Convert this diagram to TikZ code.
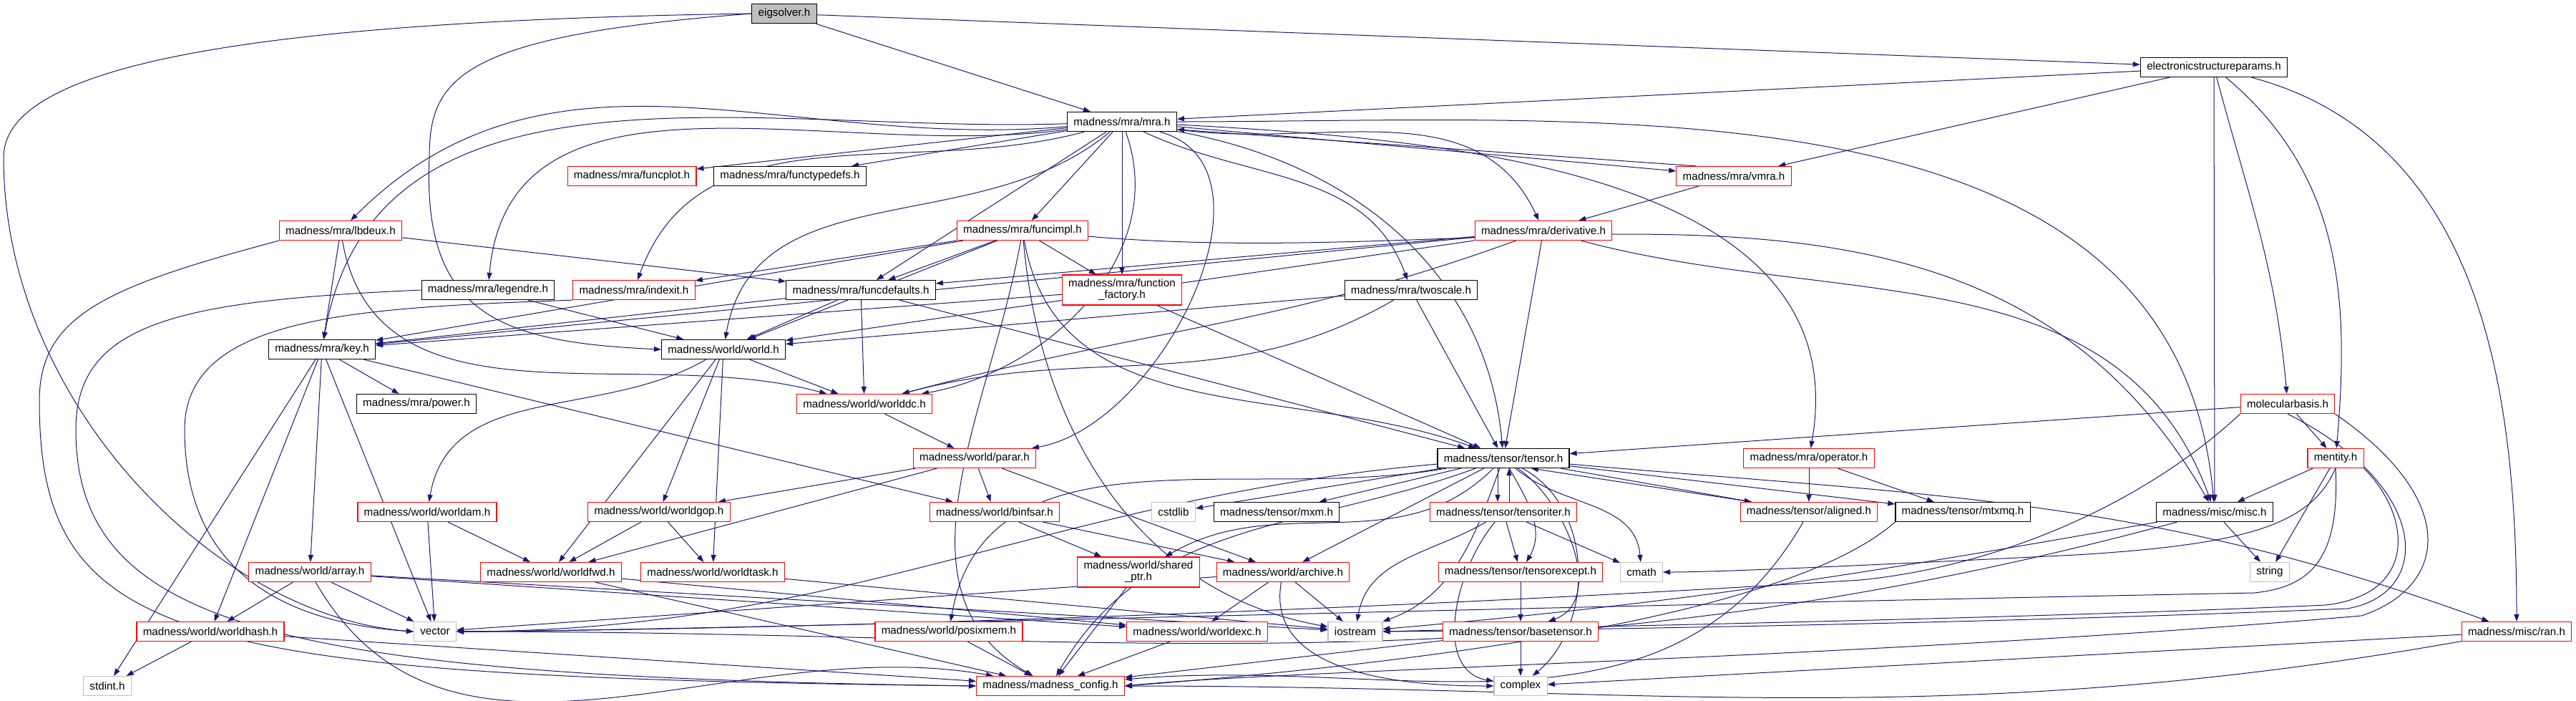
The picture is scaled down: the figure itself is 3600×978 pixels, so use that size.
\documentclass[tikz,border=0pt]{standalone}
\usepackage{fontspec}
\setmainfont{Liberation Sans}
\usetikzlibrary{arrows.meta,backgrounds}
\definecolor{dxblue}{RGB}{25,25,112}
\definecolor{sysgray}{RGB}{191,191,191}

\begin{document}
\begin{tikzpicture}[x=0.25pt,y=-0.25pt,>={Triangle[length=2.5pt,width=1.8pt]},
  hdr/.style={draw=black,fill=white,line width=0.3pt,inner xsep=2.2pt,inner ysep=0pt,
    minimum height=6.75pt,font=\fontsize{3.8}{4}\selectfont},
  hdrred/.style={hdr,draw=red},
  hdrsys/.style={hdr,draw=sysgray},
  incl/.style={->,draw=dxblue,line width=0.25pt}]
  \useasboundingbox (0,0) rectangle (3600,978);
  % headers, row by row
  \node[hdr,fill=sysgray] (eig) at (1096,19) {eigsolver.h};
  \node[hdr] (esp) at (3094,94) {electronicstructureparams.h};
  \node[hdr] (mra) at (1568,170) {madness/mra/mra.h};
  \node[hdrred] (funcplot) at (883,246) {madness/mra/funcplot.h};
  \node[hdr] (functypedefs) at (1104,246) {madness/mra/functypedefs.h};
  \node[hdrred] (vmra) at (2423,246) {madness/mra/vmra.h};
  \node[hdrred] (lbdeux) at (476,322) {madness/mra/lbdeux.h};
  \node[hdrred] (funcimpl) at (1429,322) {madness/mra/funcimpl.h};
  \node[hdrred] (derivative) at (2157,322) {madness/mra/derivative.h};
  \node[hdr] (legendre) at (682,405) {madness/mra/legendre.h};
  \node[hdrred] (indexit) at (886,405) {madness/mra/indexit.h};
  \node[hdr] (funcdefaults) at (1203,405) {madness/mra/funcdefaults.h};
  \node[hdrred,align=center,minimum height=10.5pt] (funcfactory) at (1568,405) {madness/mra/function\\\_factory.h};
  \node[hdr] (twoscale) at (1972,405) {madness/mra/twoscale.h};
  \node[hdr] (key) at (450,488) {madness/mra/key.h};
  \node[hdr] (world) at (1011,488) {madness/world/world.h};
  \node[hdr] (power) at (582,564) {madness/mra/power.h};
  \node[hdrred] (worlddc) at (1208,564) {madness/world/worlddc.h};
  \node[hdrred] (molbasis) at (3197,564) {molecularbasis.h};
  \node[hdrred] (parar) at (1362,640) {madness/world/parar.h};
  \node[hdr] (tensor) at (2101,640) {madness/tensor/tensor.h};
  \node[hdrred] (operator) at (2528,640) {madness/mra/operator.h};
  \node[hdrred] (mentity) at (3264,640) {mentity.h};
  \node[hdrred] (worldam) at (597,715) {madness/world/worldam.h};
  \node[hdrred] (worldgop) at (921,715) {madness/world/worldgop.h};
  \node[hdrred] (binfsar) at (1390,715) {madness/world/binfsar.h};
  \node[hdrsys] (cstdlib) at (1640,715) {cstdlib};
  \node[hdr] (mxm) at (1784,715) {madness/tensor/mxm.h};
  \node[hdrred] (tensoriter) at (2101,715) {madness/tensor/tensoriter.h};
  \node[hdrred] (aligned) at (2528,715) {madness/tensor/aligned.h};
  \node[hdr] (mtxmq) at (2743,715) {madness/tensor/mtxmq.h};
  \node[hdr] (misc) at (3095,715) {madness/misc/misc.h};
  \node[hdrred] (array) at (433,799) {madness/world/array.h};
  \node[hdrred] (worldfwd) at (770,799) {madness/world/worldfwd.h};
  \node[hdrred] (worldtask) at (996,799) {madness/world/worldtask.h};
  \node[hdrred,align=center,minimum height=10.5pt] (sharedptr) at (1591,799) {madness/world/shared\\\_ptr.h};
  \node[hdrred] (archive) at (1793,799) {madness/world/archive.h};
  \node[hdrred] (tensorexcept) at (2125,799) {madness/tensor/tensorexcept.h};
  \node[hdrsys] (cmath) at (2294,799) {cmath};
  \node[hdrsys] (string) at (3172,799) {string};
  \node[hdrred] (worldhash) at (294,882) {madness/world/worldhash.h};
  \node[hdrsys] (vector) at (608,882) {vector};
  \node[hdrred] (posixmem) at (1326,882) {madness/world/posixmem.h};
  \node[hdrred] (worldexc) at (1673,882) {madness/world/worldexc.h};
  \node[hdrsys] (iostream) at (1894,882) {iostream};
  \node[hdrred] (basetensor) at (2125,882) {madness/tensor/basetensor.h};
  \node[hdrred] (ran) at (3517,882) {madness/misc/ran.h};
  \node[hdrsys] (stdint) at (150,958) {stdint.h};
  \node[hdrred] (config) at (1468,958) {madness/madness\_config.h};
  \node[hdrsys] (complex) at (2125,958) {complex};

  \begin{pgfonlayer}{background}
  % straight includes
  \foreach \a/\b in {eig/mra,eig/esp,esp/mra,esp/vmra,esp/misc,mra/funcplot,mra/functypedefs,
      mra/funcimpl,mra/funcfactory,mra/funcdefaults,mra/vmra,vmra/derivative,
      lbdeux/key,lbdeux/funcdefaults,legendre/world,
      funcimpl/indexit,funcimpl/key,funcimpl/funcdefaults,funcimpl/funcfactory,funcimpl/world,
      funcdefaults/key,funcdefaults/world,funcdefaults/worlddc,funcdefaults/tensor,
      funcfactory/key,funcfactory/tensor,
      derivative/funcdefaults,derivative/key,derivative/world,derivative/tensor,
      twoscale/world,twoscale/tensor,
      key/power,key/array,key/worldhash,key/stdint,key/vector,key/binfsar,
      world/worldfwd,world/worldtask,world/worldgop,world/worlddc,worlddc/parar,
      parar/worldgop,parar/worldfwd,parar/binfsar,parar/archive,
      worldam/vector,worldam/worldfwd,worldgop/worldfwd,worldgop/worldtask,
      array/worldhash,array/vector,array/worldexc,array/iostream,
      worldhash/stdint,worldhash/config,worldfwd/config,worldfwd/worldexc,worldtask/iostream,
      binfsar/sharedptr,binfsar/archive,sharedptr/config,
      archive/vector,archive/worldexc,archive/iostream,posixmem/config,worldexc/config,
      tensor/mxm,tensor/cstdlib,tensor/archive,tensor/aligned,tensor/mtxmq,
      tensoriter/tensorexcept,tensoriter/cmath,tensorexcept/basetensor,
      basetensor/complex,basetensor/config,operator/aligned,operator/mtxmq,
      misc/string,mentity/misc,mentity/string,molbasis/tensor,molbasis/mentity,ran/complex}
    \draw[incl] (\a) -- (\b);

  % curved includes
  \draw[incl] (eig.west) .. controls (300,30) and (5,100) .. (5,220) .. controls (5,560) and (300,860) .. (vector.west);
  \draw[incl] (eig.west) .. controls (640,50) and (600,110) .. (600,220) .. controls (590,440) and (700,478) .. (world.west);
  \draw[incl] (esp) to[out=-75,in=95] (molbasis);
  \draw[incl] (esp) to[out=-40,in=85] (mentity);
  \draw[incl] (esp) to[out=-15,in=90] (ran);
  \draw[incl] (mra) to[out=185,in=45] (lbdeux);
  \draw[incl] (mra) to[out=182,in=80] (key);
  \draw[incl] (mra) to[out=188,in=85] (legendre);
  \draw[incl] (mra) to[out=195,in=70] (indexit);
  \draw[incl] (mra) to[out=-140,in=80] (world);
  \draw[incl] (mra) to[out=-70,in=10] (worlddc);
  \draw[incl] (mra) to[out=-15,in=10] (parar);
  \draw[incl] (mra) to[out=-10,in=95] (tensor);
  \draw[incl] (mra) to[out=-25,in=110] (twoscale);
  \draw[incl] (mra) to[out=-8,in=115] (derivative);
  \draw[incl] (mra) to[out=-3,in=80] (operator);
  \draw[incl] (mra) to[out=0,in=95] (misc);
  \draw[incl] (vmra.165) -- (mra.-8);
  \draw[incl] (lbdeux) to[out=-80,in=165] (worlddc);
  \draw[incl] (lbdeux.south west) .. controls (150,400) and (55,440) .. (55,560) .. controls (55,900) and (250,945) .. (config.west);
  \draw[incl] (legendre.west) .. controls (250,420) and (106,450) .. (106,600) .. controls (106,880) and (400,945) .. (config.west);
  \draw[incl] (indexit.south west) .. controls (500,430) and (258,440) .. (258,600) .. controls (258,800) and (400,870) .. (vector.west);
  \draw[incl] (funcimpl) to[out=-80,in=160] (tensor);
  \draw[incl] (funcimpl) to[out=-5,in=120] (misc);
  \draw[incl] (funcimpl) to[out=-100,in=150] (config);
  \draw[incl] (funcimpl) to[out=-85,in=170] (iostream);
  \draw[incl] (derivative) to[out=200,in=15] (worlddc);
  \draw[incl] (derivative) to[out=-15,in=110] (misc);
  \draw[incl] (twoscale) to[out=-150,in=15] (worlddc);
  \draw[incl] (world) to[out=-150,in=80] (worldam);
  \draw[incl] (array) to[out=-60,in=170] (config);
  \draw[incl] (archive) to[out=-100,in=180] (complex);
  \draw[incl] ([xshift=-2pt]tensor.south) -- ([xshift=-2pt]tensoriter.north);
  \draw[incl] ([xshift=2pt]tensoriter.north) -- ([xshift=2pt]tensor.south);
  \draw[incl] (aligned.170) -- (tensor.-20);
  \draw[incl] (tensor) to[out=185,in=0] (vector);
  \draw[incl] (tensor) to[out=190,in=80] (posixmem);
  \draw[incl] (tensor) to[out=200,in=60] (config);
  \draw[incl] (tensor) to[out=-135,in=30] (sharedptr);
  \draw[incl] (tensor) to[out=-60,in=60] (tensorexcept);
  \draw[incl] (tensor) to[out=-40,in=95] (cmath);
  \draw[incl] (tensor) to[out=-110,in=20] (iostream);
  \draw[incl] (tensor) to[out=-35,in=20] (basetensor);
  \draw[incl] (tensor) to[out=-28,in=40] (complex);
  \draw[incl] (tensor) to[out=-5,in=160] (ran);
  \draw[incl] (tensoriter) to[out=-150,in=80] (iostream);
  \draw[incl] (tensoriter) to[out=-130,in=170] (complex);
  \draw[incl] (aligned) to[out=-120,in=5] (config);
  \draw[incl] (mtxmq.south west) .. controls (2500,860) and (2000,925) .. (config.east);
  \draw[incl] (misc) to[out=190,in=5] (iostream);
  \draw[incl] (misc) to[out=195,in=0] (vector);
  \draw[incl] (mentity.south) .. controls (3230,730) and (3150,760) .. (2900,775) .. controls (2600,790) and (2400,799) .. (cmath.east);
  \draw[incl] (mentity.south) .. controls (3270,780) and (3230,820) .. (3150,828) .. controls (2000,850) and (1000,880) .. (vector.east);
  \draw[incl] (mentity.south east) .. controls (3370,720) and (3380,830) .. (3250,845) .. controls (2800,865) and (2200,875) .. (iostream.east);
  \draw[incl] (molbasis.south) .. controls (3400,680) and (3400,830) .. (3280,850) .. controls (2800,870) and (2200,880) .. (iostream.east);
  \draw[incl] (molbasis.south west) .. controls (3000,700) and (2800,790) .. (2600,810) .. controls (1800,860) and (1000,880) .. (vector.east);
  \draw[incl] (molbasis.south east) .. controls (3440,700) and (3420,820) .. (3300,860) .. controls (2600,920) and (1800,935) .. (config.east);
  \draw[incl] (ran) to[out=190,in=0] (config);
  \end{pgfonlayer}
\end{tikzpicture}
\end{document}
